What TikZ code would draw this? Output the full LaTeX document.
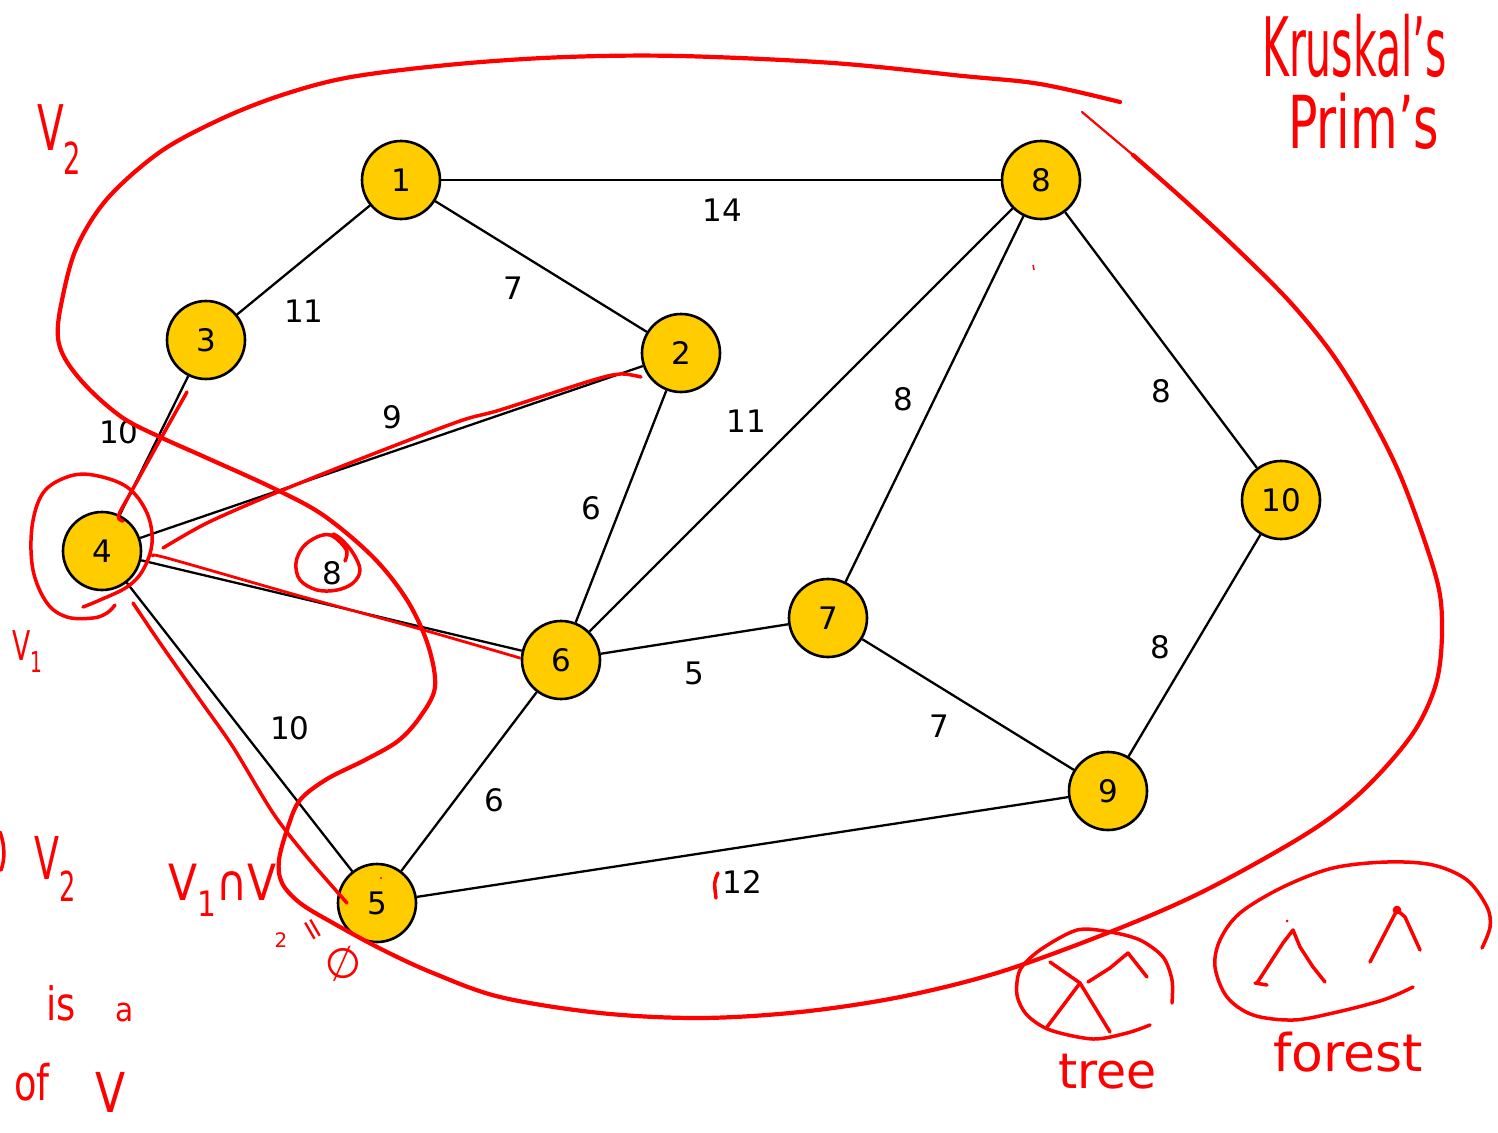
\documentclass[tikz,border=0pt]{standalone}
\usepackage{fontspec}
\usepackage{graphicx}
\setmainfont{DejaVu Sans}
\definecolor{nodeyellow}{RGB}{255,204,0}
\definecolor{inkred}{RGB}{255,0,0}
\newcommand\hwtext[3]{\scalebox{#2}[1]{\fontsize{#1}{#1}\selectfont #3}}
\begin{document}
\begin{tikzpicture}[x=1pt,y=-1pt,
  vtx/.style={circle,draw=black,line width=2.6pt,fill=nodeyellow,minimum size=78pt,inner sep=0pt,font=\fontsize{31}{36}\selectfont},
  edge/.style={line width=2.3pt,black},
  wlab/.style={inner sep=0pt,font=\fontsize{31}{36}\selectfont},
  ink/.style={inkred,line width=3.5pt,line cap=round,line join=round},
  inkthick/.style={inkred,line width=4.2pt,line cap=round,line join=round},
  hw/.style={text=inkred,inner sep=0pt,anchor=base west}
]
\useasboundingbox (0,0) rectangle (1498,1132);

% vertices
\node[vtx] (n1) at (401,180) {1};
\node[vtx] (n8) at (1041,180) {8};
\node[vtx] (n3) at (206,340) {3};
\node[vtx] (n2) at (681,353) {2};
\node[vtx] (n10) at (1281,500) {10};
\node[vtx] (n4) at (102,551) {4};
\node[vtx] (n6) at (561,660) {6};
\node[vtx] (n7) at (828,618) {7};
\node[vtx] (n9) at (1108,791) {9};
\node[vtx] (n5) at (377,903) {5};

% edges
\draw[edge] (n1) -- (n8);
\draw[edge] (n1) -- (n3);
\draw[edge] (n1) -- (n2);
\draw[edge] (n3) -- (n4);
\draw[edge] (n4) -- (n2);
\draw[edge] (n2) -- (n6);
\draw[edge] (n8) -- (n6);
\draw[edge] (n8) -- (n7);
\draw[edge] (n8) -- (n10);
\draw[edge] (n10) -- (n9);
\draw[edge] (n4) -- (n6);
\draw[edge] (n6) -- (n7);
\draw[edge] (n7) -- (n9);
\draw[edge] (n4) -- (n5);
\draw[edge] (n6) -- (n5);
\draw[edge] (n5) -- (n9);

% weights
\node[wlab] (w18) at (722,210) {14};
\node[wlab] (w13) at (304,311) {11};
\node[wlab] (w12) at (513,288) {7};
\node[wlab] (w34) at (119,432) {10};
\node[wlab] (w42) at (392,417) {9};
\node[wlab] (w26) at (591,508) {6};
\node[wlab] (w86) at (746,421) {11};
\node[wlab] (w87) at (903,399) {8};
\node[wlab] (w810) at (1161,391) {8};
\node[wlab] (w109) at (1160,647) {8};
\node[wlab] (w46) at (332,573) {8};
\node[wlab] (w67) at (694,673) {5};
\node[wlab] (w79) at (939,726) {7};
\node[wlab] (w45) at (290,728) {10};
\node[wlab] (w65) at (494,800) {6};
\node[wlab] (w59) at (742,882) {12};

% ---- red ink annotations ----
% big loop V2
\draw[inkthick] plot[smooth,tension=0.55] coordinates {
 (1120,102) (1040,84) (963,76) (833,63) (680,56) (566,57) (458,64) (351,77) (282,95)
 (221,119) (160,152) (107,199) (76,249) (61,305) (58,338) (67,362) (90,390) (123,418)
 (160,437) (207,458) (273,488) (323,515) (373,557) (407,600) (428,645) (435,687)
 (420,717) (398,741) (365,760) (327,779) (300,800) (288,827) (279,860) (282,883)
 (300,903) (333,923) (383,950) (433,973) (500,997) (600,1013) (700,1018) (800,1012)
 (900,997) (1000,972) (1110,932) (1200,893) (1293,842) (1343,808) (1383,770)
 (1417,727) (1437,680) (1442,627) (1436,577) (1403,482) (1370,415) (1333,355)
 (1290,302) (1237,249) (1183,199) (1133,155)};
\draw[inkred,line width=2.2pt,line cap=round] (1133,155) -- (1082,112);
% circle around 4
\draw[ink] plot[smooth,tension=0.6] coordinates {
 (115,605) (107,613) (93,618) (67,617) (47,603) (33,570) (32,527) (43,493) (67,477)
 (93,475) (127,487) (147,513) (152,543) (143,570) (127,587) (100,600) (83,607)};
% along 3-4
\draw[ink] plot[smooth,tension=0.5] coordinates {(187,392) (160,440) (135,485) (120,512) (119,519) (123,521)};
% along 4-2
\draw[ink] plot[smooth,tension=0.5] coordinates {(641,377) (620,374) (590,381) (500,410) (460,421) (373,454) (273,494) (207,523) (163,548)};
% along 4-6
\draw[ink,line width=2.8pt] plot[smooth,tension=0.5] coordinates {(153,556) (167,558) (300,596) (420,629) (520,658)};
% along 4-5
\draw[ink] plot[smooth,tension=0.5] coordinates {(133,603) (160,643) (200,700) (233,747) (273,813) (307,857) (347,903)};
% circle around weight 8
\draw[ink] plot[smooth,tension=0.6] coordinates {
 (345,561) (347,552) (341,543) (330,535) (317,537) (303,547) (296,563) (300,580)
 (317,590) (337,590) (353,583) (360,570) (353,553) (341,539) (333,534)};
% small marks
\draw[ink] (718,873) .. controls (714,882) .. (716,898);
\draw[inkred,line width=1.5pt] (1033,265) -- (1034,270);
\fill[inkred] (381,878) circle (1.2pt);
\draw[ink] (0,832) .. controls (5,845) and (5,860) .. (1,870);

% tree sketch
\draw[ink] plot[smooth,tension=0.5] coordinates {
 (1150,1025) (1127,1033) (1093,1039) (1050,1030) (1027,1015) (1017,995) (1020,970)
 (1040,950) (1077,930) (1110,932) (1140,940) (1163,957) (1172,980) (1172,1003)};
\draw[ink] (1050,962) -- (1080,983) -- (1110,1032);
\draw[ink] (1047,1027) -- (1080,983);
\draw[ink] (1088,982) -- (1110,968) -- (1128,953) -- (1147,977);

% forest sketch
\draw[ink] plot[smooth,tension=0.55] coordinates {
 (1413,987) (1383,1000) (1333,1013) (1293,1020) (1253,1015) (1227,997) (1215,967)
 (1220,940) (1240,913) (1283,887) (1333,868) (1387,862) (1433,865) (1467,880)
 (1487,907) (1490,927) (1482,948)};
\draw[ink] (1257,983) -- (1283,943) -- (1293,930) -- (1300,947) -- (1313,967) -- (1325,982);
\draw[ink] (1255,983) -- (1267,985);
\fill[inkred] (1287,921) circle (1.5pt);
\draw[ink] (1370,962) -- (1397,910) -- (1405,917) -- (1420,950);
\draw[ink] (1397,910) circle (2.5pt);

% handwritten words
\node[hw] (kruskal) at (1262,76) {\hwtext{82}{0.5}{Kruskal's}};
\node[hw] (prim) at (1288,148) {\hwtext{73}{0.67}{Prim's}};
\node[hw] (vtwo) at (37,150) {\hwtext{63}{0.62}{V\textsubscript{2}}};
\node[hw] (vone) at (12,660) {\hwtext{41}{0.65}{V\textsubscript{1}}};
\node[hw] (vtwob) at (34,879) {\hwtext{59}{0.62}{V\textsubscript{2}}};
\node[hw] (capexpr) at (168,900) {\hwtext{50}{0.85}{V\textsubscript{1}∩V}};
\node[text=inkred,inner sep=0pt] (capsub) at (281,940) {\fontsize{20}{20}\selectfont 2};
\node[text=inkred,inner sep=0pt,rotate=-60] (capeq) at (311,931) {\fontsize{30}{30}\selectfont =};
\node[text=inkred,inner sep=0pt,rotate=15] (capempty) at (343,964) {\fontsize{42}{42}\selectfont ∅};
\node[hw] (isword) at (46,1020) {\hwtext{46}{0.8}{is}};
\node[hw] (aword) at (115,1021) {\hwtext{33}{0.9}{a}};
\node[hw] (ofword) at (14,1100) {\hwtext{49}{0.75}{of}};
\node[hw] (vbig) at (95,1112) {\hwtext{55}{0.8}{V}};
\node[hw] (treeword) at (1058,1088) {\hwtext{49}{1}{tree}};
\node[hw] (forestword) at (1273,1071) {\hwtext{52}{1}{forest}};
\end{tikzpicture}
\end{document}
